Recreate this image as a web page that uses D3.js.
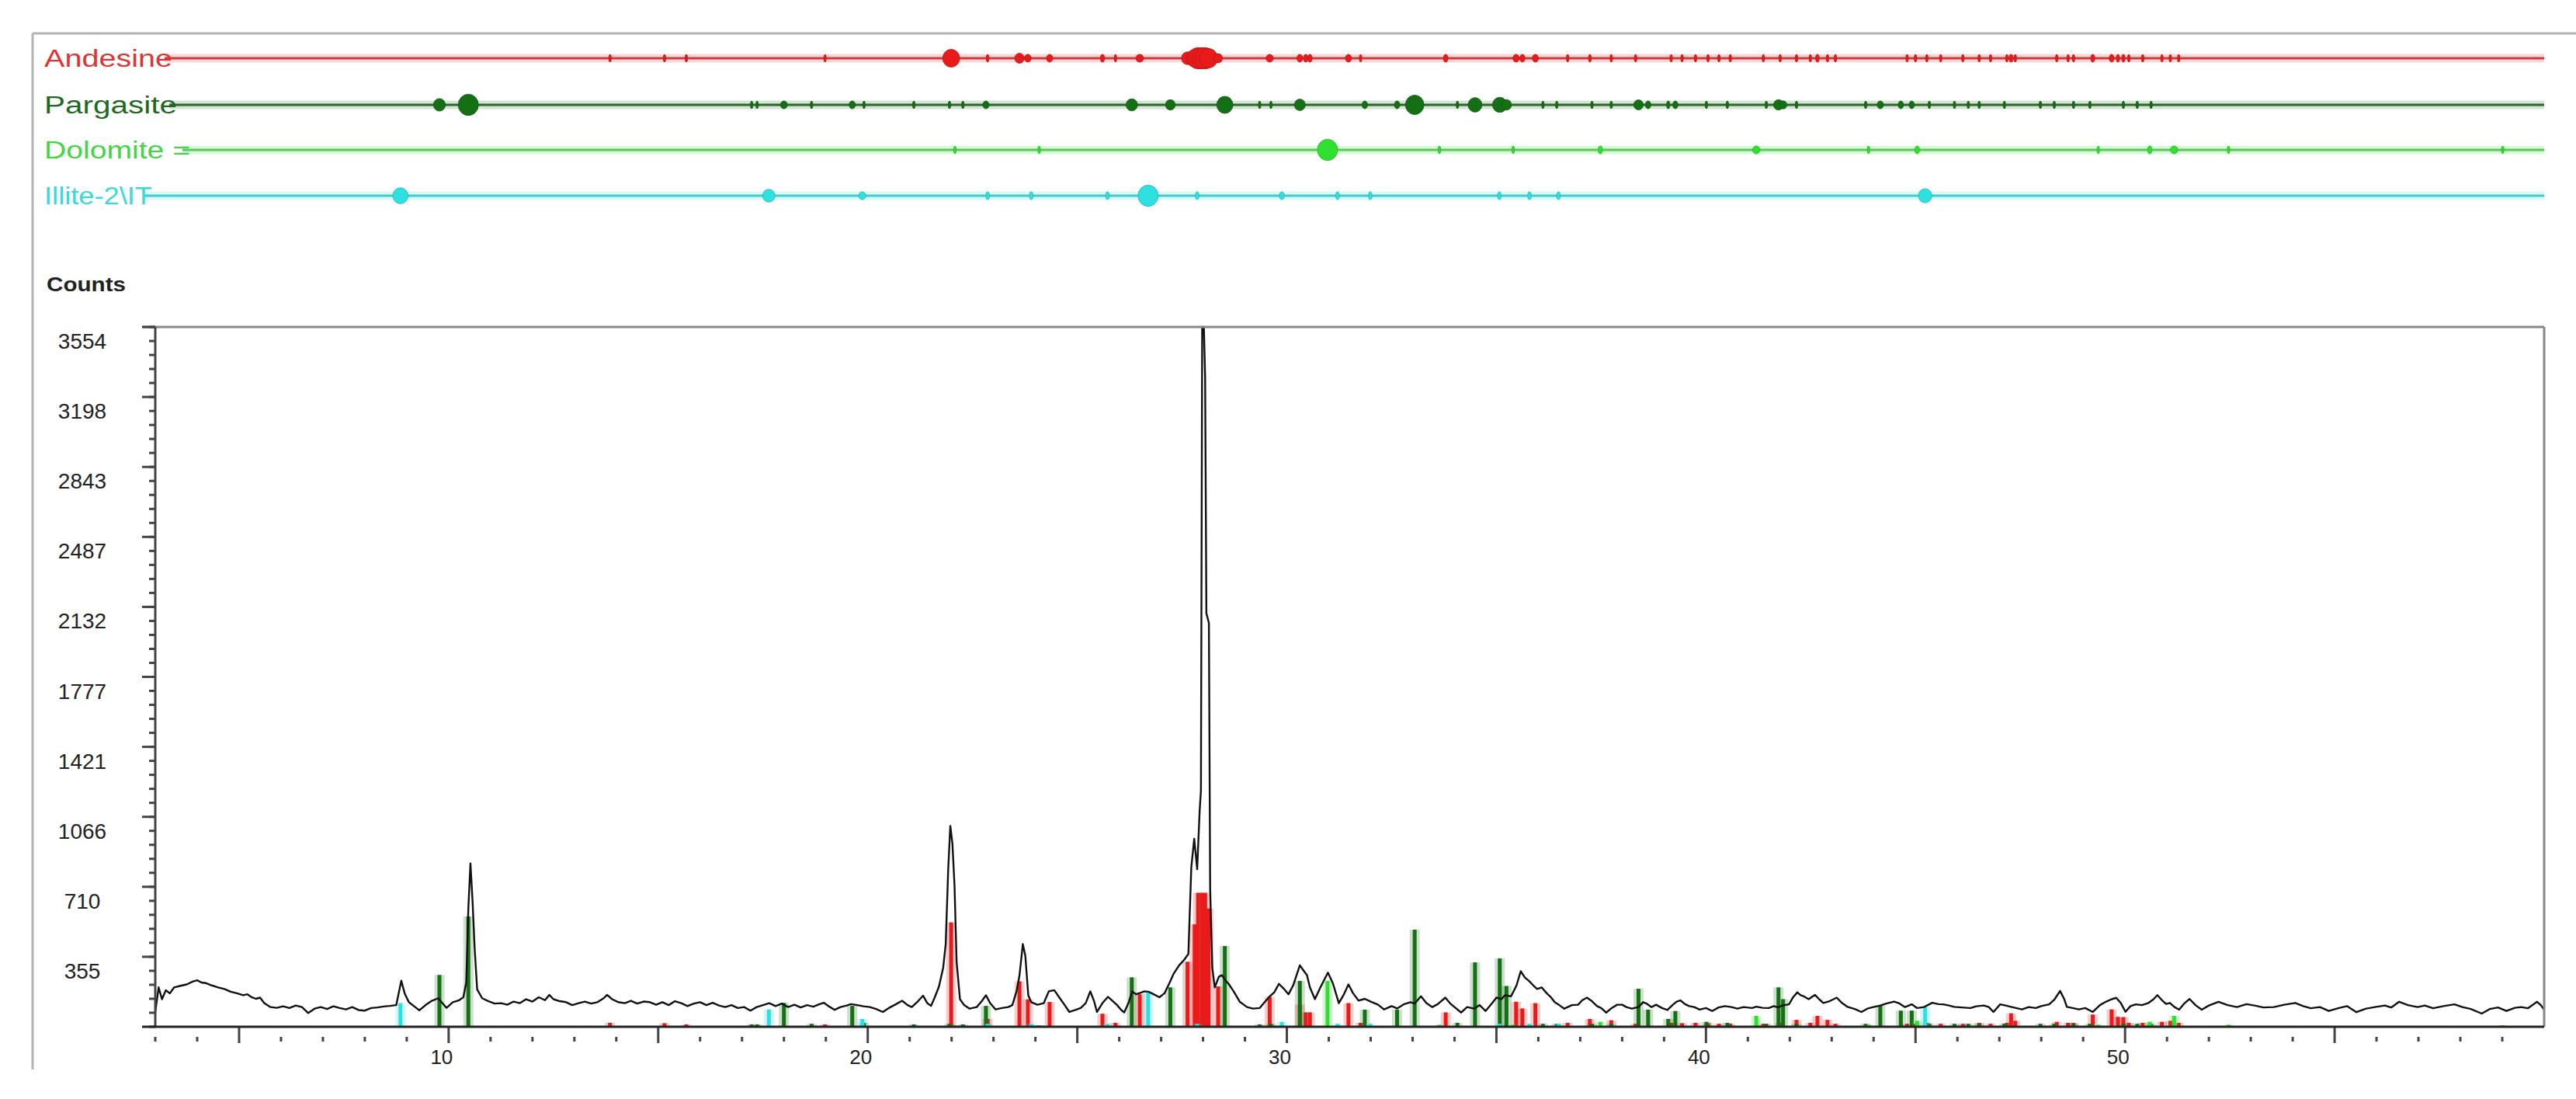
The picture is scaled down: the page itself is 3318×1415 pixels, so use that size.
<!DOCTYPE html>
<html>
<head>
<meta charset="utf-8">
<script src="https://cdn.jsdelivr.net/npm/d3@7"></script>
<style>
  html, body { margin: 0; padding: 0; background: #fff; }
  svg { display: block; font-family: "Liberation Sans", Arial, sans-serif; }
</style>
</head>
<body>
<svg id="chart" width="3318" height="1415"></svg>
<script>
// phases shown in the top strip and as sticks
const phaseNames = ["Andesine", "Pargasite", "Dolomite =", "Illite-2\\IT"];
const phaseColors = ["#e81a1a", "#157015", "#2fe02f", "#2fe0e0"];
const lineColors = ["#cc3c3c", "#2f642f", "#55cc55", "#40cccc"];
const labelColors = ["#e03434", "#1d6a1d", "#45d445", "#38dada"];

// reference sticks, [2theta, counts]
const andesine = [
  [13.85, 20], [15.15, 18], [15.67, 12], [18.98, 12], [21.99, 530], [22.86, 40],
  [23.62, 231], [23.82, 139], [24.34, 126], [25.6, 66], [25.91, 20], [26.49, 165],
  [27.63, 330], [27.8, 520], [27.88, 680], [27.97, 680], [28.05, 680], [28.13, 600],
  [28.36, 205], [29.59, 152], [30.31, 113], [30.45, 73], [30.55, 73], [31.47, 120],
  [31.76, 20], [33.79, 73], [35.47, 127], [35.62, 93], [35.93, 120], [36.7, 20],
  [37.23, 40], [37.74, 33], [38.32, 15], [39.17, 20], [39.43, 18], [39.75, 20],
  [40.05, 18], [40.31, 15], [40.58, 15], [41.37, 15], [41.77, 20], [42.16, 35],
  [42.49, 20], [42.66, 55], [42.9, 35], [43.09, 15], [44.8, 15], [45.0, 15],
  [45.27, 20], [45.6, 15], [46.13, 15], [46.52, 20], [46.79, 15], [47.18, 20],
  [47.28, 68], [47.38, 30], [48.37, 25], [48.64, 20], [48.77, 20], [49.23, 62],
  [49.68, 88], [49.83, 50], [49.96, 49], [50.09, 20], [50.42, 20], [50.88, 25],
  [51.08, 30], [51.28, 20]
];
const pargasite = [
  [9.78, 263], [10.47, 560], [17.23, 12], [17.36, 12], [18.0, 121], [18.66, 15],
  [19.63, 106], [19.91, 20], [21.1, 12], [21.95, 15], [22.27, 12], [22.82, 106],
  [26.3, 251], [27.22, 200], [28.52, 410], [29.35, 12], [29.62, 15], [30.31, 233],
  [31.86, 87], [32.63, 87], [33.05, 493], [34.07, 20], [34.49, 327], [35.08, 347],
  [35.24, 207], [36.11, 15], [36.44, 15], [37.28, 15], [37.74, 15], [38.39, 193],
  [38.62, 87], [39.1, 40], [39.27, 80], [40.01, 25], [40.51, 20], [41.44, 15],
  [41.73, 200], [41.84, 140], [42.16, 15], [43.81, 15], [44.16, 108], [44.65, 82],
  [44.91, 82], [45.33, 15], [45.93, 15], [46.26, 15], [46.52, 15], [47.12, 15],
  [47.98, 15], [48.31, 15], [48.77, 15], [49.16, 15], [49.96, 15], [50.29, 15],
  [50.62, 15]
];
const dolomite = [
  [22.08, 8], [24.09, 8], [30.97, 233], [33.64, 10], [35.4, 10], [37.48, 25],
  [41.2, 55], [43.88, 10], [45.04, 30], [49.36, 10], [50.59, 25], [51.17, 55],
  [52.47, 10], [59.01, 8]
];
const illite = [
  [8.85, 120], [17.64, 88], [19.87, 40], [22.86, 15], [23.9, 15], [25.72, 15],
  [26.69, 179], [27.86, 15], [29.88, 25], [31.21, 15], [31.99, 15], [35.07, 15],
  [35.79, 15], [36.48, 15], [45.23, 100]
];

// measured pattern, [2theta, counts]
const observed = [
  [3.0, 75], [3.08, 200], [3.16, 140], [3.25, 185], [3.35, 170], [3.45, 200], [3.6, 208],
  [3.75, 215], [3.9, 230], [4.0, 236], [4.1, 225], [4.2, 222], [4.35, 210], [4.5, 200],
  [4.65, 192], [4.8, 178], [4.95, 170], [5.1, 160], [5.2, 165], [5.3, 150], [5.4, 142],
  [5.5, 148], [5.6, 120], [5.75, 100], [5.9, 96], [6.05, 104], [6.2, 95], [6.35, 108],
  [6.5, 100], [6.65, 70], [6.8, 92], [6.95, 100], [7.1, 90], [7.25, 104], [7.4, 95],
  [7.55, 88], [7.7, 100], [7.85, 85], [8.0, 82], [8.15, 95], [8.3, 98], [8.45, 103],
  [8.6, 106], [8.75, 110], [8.87, 234], [8.95, 170], [9.05, 125], [9.2, 100], [9.3, 84],
  [9.45, 110], [9.6, 132], [9.75, 145], [9.85, 120], [9.95, 96], [10.1, 125], [10.25, 135],
  [10.35, 150], [10.42, 225], [10.47, 600], [10.52, 830], [10.57, 640], [10.62, 400],
  [10.68, 190], [10.8, 145], [10.95, 130], [11.1, 118], [11.25, 120], [11.4, 112],
  [11.55, 128], [11.7, 120], [11.85, 140], [12.0, 128], [12.15, 150], [12.3, 135],
  [12.4, 162], [12.5, 140], [12.65, 130], [12.8, 125], [12.95, 110], [13.1, 120],
  [13.25, 128], [13.4, 118], [13.55, 125], [13.7, 145], [13.78, 162], [13.9, 140],
  [14.05, 125], [14.2, 120], [14.35, 132], [14.5, 118], [14.65, 128], [14.8, 125],
  [14.95, 112], [15.1, 125], [15.25, 110], [15.4, 130], [15.55, 120], [15.7, 105],
  [15.85, 118], [16.0, 125], [16.15, 110], [16.3, 122], [16.45, 108], [16.6, 100],
  [16.75, 110], [16.9, 95], [17.05, 100], [17.2, 82], [17.35, 100], [17.5, 110],
  [17.65, 120], [17.8, 105], [17.95, 118], [18.1, 100], [18.25, 112], [18.4, 98],
  [18.55, 110], [18.7, 102], [18.85, 115], [18.95, 122], [19.1, 100], [19.21, 86],
  [19.35, 100], [19.5, 108], [19.6, 115], [19.75, 110], [19.9, 104], [20.05, 100],
  [20.2, 90], [20.36, 75], [20.5, 95], [20.65, 112], [20.82, 132], [20.95, 110],
  [21.05, 100], [21.2, 130], [21.32, 158], [21.42, 120], [21.51, 106], [21.6, 150],
  [21.7, 205], [21.8, 300], [21.86, 420], [21.92, 800], [21.97, 1020], [22.02, 930],
  [22.07, 720], [22.12, 330], [22.2, 140], [22.3, 110], [22.43, 92], [22.6, 100],
  [22.72, 130], [22.82, 160], [22.92, 120], [23.05, 88], [23.2, 95], [23.35, 100],
  [23.45, 110], [23.55, 180], [23.62, 260], [23.7, 420], [23.76, 360], [23.83, 160],
  [23.9, 125], [24.05, 112], [24.2, 120], [24.32, 180], [24.45, 186], [24.6, 140],
  [24.7, 110], [24.81, 75], [24.95, 85], [25.08, 95], [25.2, 120], [25.31, 180],
  [25.4, 130], [25.47, 75], [25.6, 120], [25.73, 152], [25.85, 130], [25.95, 110],
  [26.05, 85], [26.12, 73], [26.22, 120], [26.31, 180], [26.4, 165], [26.5, 172],
  [26.6, 180], [26.7, 178], [26.82, 165], [26.96, 150], [27.08, 170], [27.19, 218],
  [27.3, 270], [27.43, 312], [27.55, 340], [27.65, 370], [27.72, 810], [27.79, 955],
  [27.86, 800], [27.92, 1100], [27.95, 1200], [27.98, 3554], [28.02, 3554],
  [28.05, 3300], [28.08, 2100], [28.14, 2050], [28.17, 700], [28.22, 300], [28.28, 200],
  [28.38, 255], [28.45, 262], [28.52, 240], [28.62, 215], [28.73, 180], [28.88, 126],
  [29.05, 100], [29.19, 92], [29.35, 95], [29.45, 120], [29.57, 150], [29.7, 175],
  [29.81, 218], [29.92, 195], [30.04, 165], [30.15, 210], [30.31, 312], [30.4, 285],
  [30.48, 262], [30.55, 200], [30.67, 140], [30.8, 200], [30.98, 275], [31.1, 220],
  [31.24, 120], [31.35, 160], [31.47, 215], [31.58, 170], [31.71, 133], [31.86, 142],
  [32.0, 128], [32.17, 113], [32.32, 88], [32.5, 105], [32.63, 93], [32.8, 115],
  [32.95, 125], [33.05, 118], [33.2, 155], [33.33, 120], [33.47, 100], [33.6, 115],
  [33.78, 148], [33.9, 118], [34.0, 100], [34.16, 72], [34.3, 100], [34.47, 92],
  [34.6, 110], [34.74, 80], [34.88, 115], [35.0, 148], [35.12, 140], [35.2, 160],
  [35.35, 155], [35.48, 210], [35.58, 282], [35.68, 250], [35.78, 232], [35.88, 210],
  [35.97, 192], [36.08, 200], [36.2, 170], [36.3, 150], [36.39, 125], [36.5, 110],
  [36.62, 92], [36.8, 110], [36.95, 112], [37.05, 135], [37.16, 148], [37.28, 130],
  [37.4, 105], [37.5, 95], [37.62, 72], [37.75, 95], [37.88, 112], [38.0, 112],
  [38.1, 100], [38.23, 92], [38.39, 100], [38.5, 125], [38.58, 118], [38.7, 100],
  [38.81, 112], [38.95, 95], [39.08, 85], [39.2, 110], [39.3, 128], [39.39, 134],
  [39.5, 115], [39.6, 105], [39.72, 100], [39.85, 87], [40.0, 95], [40.15, 80],
  [40.3, 98], [40.45, 105], [40.61, 100], [40.75, 92], [40.9, 100], [41.1, 95],
  [41.2, 102], [41.35, 96], [41.5, 95], [41.62, 105], [41.72, 98], [41.82, 108],
  [41.98, 114], [42.08, 150], [42.18, 175], [42.26, 160], [42.34, 154], [42.45, 140],
  [42.6, 162], [42.7, 140], [42.8, 121], [42.95, 130], [43.12, 148], [43.25, 120],
  [43.38, 101], [43.55, 90], [43.71, 75], [43.85, 92], [44.03, 102], [44.16, 108],
  [44.3, 118], [44.49, 128], [44.6, 120], [44.75, 100], [44.91, 114], [45.04, 95],
  [45.2, 100], [45.4, 122], [45.55, 115], [45.66, 114], [45.8, 108], [45.92, 101],
  [46.1, 98], [46.31, 95], [46.45, 104], [46.63, 108], [46.75, 100], [46.86, 75],
  [47.02, 114], [47.15, 108], [47.28, 101], [47.4, 95], [47.54, 88], [47.7, 100],
  [47.87, 95], [48.0, 105], [48.19, 114], [48.32, 140], [48.45, 182], [48.55, 140],
  [48.61, 101], [48.75, 95], [48.9, 88], [49.05, 95], [49.23, 75], [49.4, 110],
  [49.55, 128], [49.68, 140], [49.79, 147], [49.9, 120], [50.01, 76], [50.13, 105],
  [50.26, 114], [50.4, 110], [50.56, 121], [50.68, 140], [50.77, 161], [50.88, 135],
  [50.98, 116], [51.07, 121], [51.18, 100], [51.29, 87], [51.42, 120], [51.54, 141],
  [51.68, 110], [51.83, 87], [52.0, 108], [52.23, 127], [52.45, 110], [52.67, 100],
  [52.9, 115], [53.11, 107], [53.3, 98], [53.55, 100], [53.8, 112], [54.06, 121],
  [54.25, 105], [54.43, 94], [54.65, 100], [54.86, 80], [55.1, 95], [55.3, 105],
  [55.52, 74], [55.75, 92], [55.96, 100], [56.2, 108], [56.35, 98], [56.54, 127],
  [56.75, 110], [56.98, 100], [57.15, 108], [57.35, 94], [57.6, 105], [57.86, 114],
  [58.05, 100], [58.25, 90], [58.51, 67], [58.7, 90], [58.9, 98], [59.1, 80],
  [59.3, 96], [59.45, 100], [59.61, 94], [59.72, 110], [59.83, 127], [59.92, 110],
  [60.0, 87]
];

const yTickValues = [355.4, 710.8, 1066.2, 1421.6, 1777, 2132.4, 2487.8, 2843.2, 3198.6, 3554];
const yTickLabels = ["355", "710", "1066", "1421", "1777", "2132", "2487", "2843", "3198", "3554"];
const xLabelValues = [10, 20, 30, 40, 50];

const phases = [andesine, pargasite, dolomite, illite];

const svg = d3.select("#chart");
const x = d3.scaleLinear().domain([3, 60]).range([200, 3277]);
const y = d3.scaleLinear().domain([0, 3554]).range([1322, 421]);

// outer frame
svg.append("line").attr("x1", 42).attr("x2", 3318).attr("y1", 43).attr("y2", 43)
  .attr("stroke", "#b4b4b4").attr("stroke-width", 3);
svg.append("line").attr("x1", 42).attr("x2", 42).attr("y1", 43).attr("y2", 1377)
  .attr("stroke", "#b4b4b4").attr("stroke-width", 3);

// top strip: one row per phase, dot size from stick intensity
const rowY = [75, 135, 193, 252];
const labelEnd = [222, 228, 245, 196];
phases.forEach(function(data, i) {
  const g = svg.append("g");
  const maxI = d3.max(data, d => d[1]);
  const size = d3.scalePow().exponent(0.7).domain([0, maxI]).range([0, 13]);
  g.append("line").attr("x1", labelEnd[i] - 10).attr("x2", 3277)
    .attr("y1", rowY[i]).attr("y2", rowY[i])
    .attr("stroke", phaseColors[i]).attr("stroke-opacity", 0.18).attr("stroke-width", 11);
  g.append("line").attr("x1", labelEnd[i] - 10).attr("x2", 3277)
    .attr("y1", rowY[i]).attr("y2", rowY[i])
    .attr("stroke", lineColors[i]).attr("stroke-width", 3);
  g.selectAll("ellipse").data(data).join("ellipse")
    .attr("cx", d => x(d[0]))
    .attr("cy", rowY[i])
    .attr("rx", d => Math.max(1.6, size(d[1])))
    .attr("ry", d => Math.max(5, size(d[1]) * 1.05))
    .attr("fill", phaseColors[i])
    .attr("stroke", d3.color(phaseColors[i]).darker(0.6))
    .attr("stroke-width", 0.8);
  g.append("text")
    .attr("x", 57).attr("y", rowY[i] + 11)
    .attr("font-size", 31)
    .attr("textLength", labelEnd[i] - 57)
    .attr("lengthAdjust", "spacingAndGlyphs")
    .attr("fill", labelColors[i])
    .text(phaseNames[i]);
});

// Counts title
svg.append("text").attr("x", 60).attr("y", 375)
  .attr("font-size", 25).attr("font-weight", "bold")
  .attr("textLength", 102).attr("lengthAdjust", "spacingAndGlyphs")
  .attr("fill", "#222").text("Counts");

// sticks
phases.forEach(function(data, i) {
  const g = svg.append("g");
  g.selectAll("rect.halo").data(data).join("rect")
    .attr("class", "halo")
    .attr("x", d => x(d[0]) - 6.5).attr("width", 13)
    .attr("y", d => y(d[1])).attr("height", d => y(0) - y(d[1]))
    .attr("fill", phaseColors[i]).attr("opacity", 0.22);
  g.selectAll("rect.core").data(data).join("rect")
    .attr("class", "core")
    .attr("x", d => x(d[0]) - 2.5).attr("width", 5)
    .attr("y", d => y(d[1])).attr("height", d => y(0) - y(d[1]))
    .attr("fill", phaseColors[i]);
});

// measured line
const line = d3.line().x(d => x(d[0])).y(d => y(d[1]));
svg.append("path").datum(observed)
  .attr("d", line)
  .attr("fill", "none")
  .attr("stroke", "#111")
  .attr("stroke-width", 2.4)
  .attr("stroke-linejoin", "round");

// frame of plot
svg.append("line").attr("x1", 183).attr("x2", 3277).attr("y1", 421).attr("y2", 421)
  .attr("stroke", "#888").attr("stroke-width", 3);
svg.append("line").attr("x1", 3277).attr("x2", 3277).attr("y1", 421).attr("y2", 1322)
  .attr("stroke", "#888").attr("stroke-width", 3);

// y axis
const yMinor = d3.range(0, 3554.01, 71.08);
svg.append("g").selectAll("line").data(yMinor).join("line")
  .attr("x1", 192).attr("x2", 200)
  .attr("y1", d => y(d)).attr("y2", d => y(d))
  .attr("stroke", "#444").attr("stroke-width", 3);
svg.append("g").selectAll("line").data(yTickValues).join("line")
  .attr("x1", 183).attr("x2", 200)
  .attr("y1", d => y(d)).attr("y2", d => y(d))
  .attr("stroke", "#444").attr("stroke-width", 3);
svg.append("g").selectAll("text").data(yTickValues).join("text")
  .attr("x", 106).attr("y", d => y(d) + 28)
  .attr("text-anchor", "middle")
  .attr("font-size", 28).attr("fill", "#222")
  .text((d, i) => yTickLabels[i]);
svg.append("line").attr("x1", 200).attr("x2", 200).attr("y1", 421).attr("y2", 1322)
  .attr("stroke", "#444").attr("stroke-width", 3);

// x axis
const xMinor = d3.range(3, 60).filter(d => d % 5 != 0);
const xMajor = d3.range(5, 60, 5);
svg.append("g").selectAll("line").data(xMinor).join("line")
  .attr("x1", d => x(d)).attr("x2", d => x(d))
  .attr("y1", 1335).attr("y2", 1341)
  .attr("stroke", "#444").attr("stroke-width", 3);
svg.append("g").selectAll("line").data(xMajor).join("line")
  .attr("x1", d => x(d)).attr("x2", d => x(d))
  .attr("y1", 1322).attr("y2", 1343)
  .attr("stroke", "#444").attr("stroke-width", 3);
svg.append("g").selectAll("text").data(xLabelValues).join("text")
  .attr("x", d => x(d) - 9).attr("y", 1370)
  .attr("text-anchor", "middle")
  .attr("font-size", 26).attr("fill", "#222")
  .text(d => d);
svg.append("line").attr("x1", 183).attr("x2", 3277).attr("y1", 1322).attr("y2", 1322)
  .attr("stroke", "#222").attr("stroke-width", 3);
</script>
</body>
</html>
